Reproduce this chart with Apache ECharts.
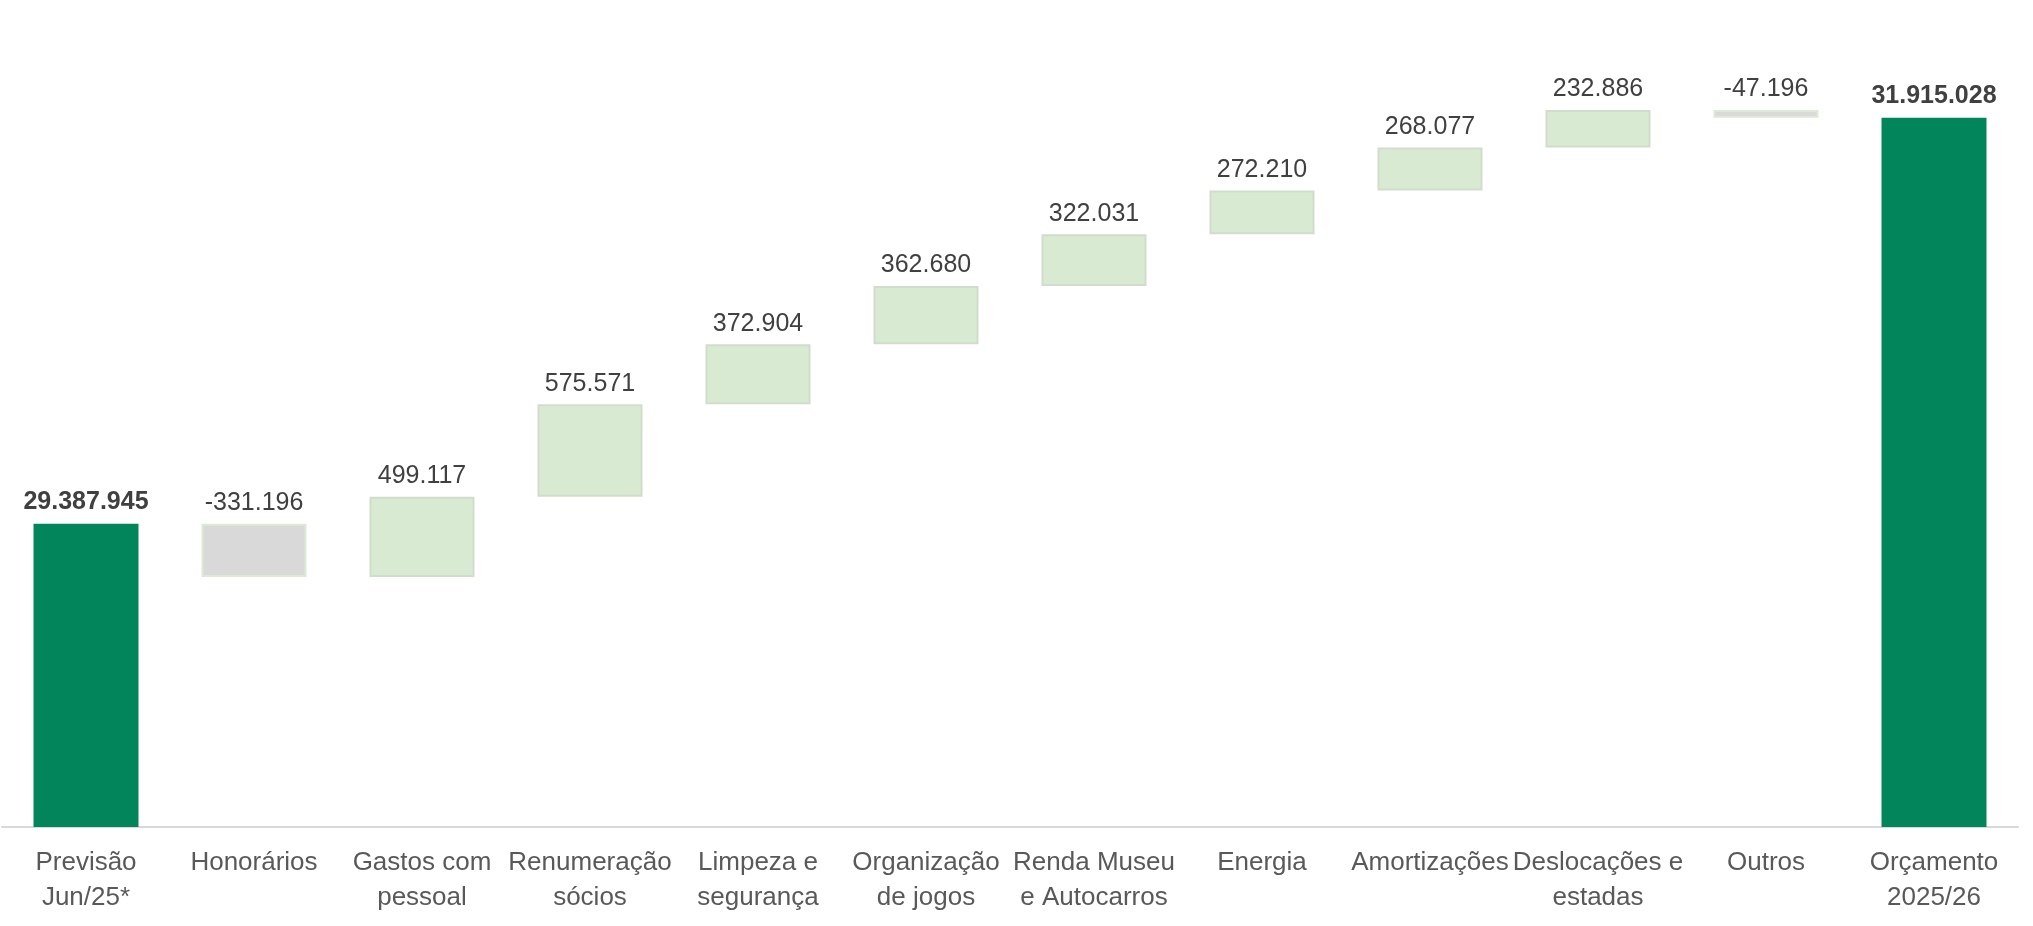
<!DOCTYPE html>
<html>
<head>
<meta charset="utf-8">
<script src="https://cdn.jsdelivr.net/npm/echarts@6/dist/echarts.min.js"></script>
<style>
html,body{margin:0;padding:0;background:#fff;}
#chart{width:2033px;height:926px;}
</style>
</head>
<body>
<div id="chart"></div>
<script>
var categories = ["Previsão\nJun/25*", "Honorários", "Gastos com\npessoal", "Renumeração\nsócios", "Limpeza e\nsegurança", "Organização\nde jogos", "Renda Museu\ne Autocarros", "Energia", "Amortizações", "Deslocações e\nestadas", "Outros", "Orçamento\n2025/26"];
var values = [29387945, -331196, 499117, 575571, 372904, 362680, 322031, 272210, 268077, 232886, -47196, 31915028];
var isTotal = [true, false, false, false, false, false, false, false, false, false, false, true];

function fmt(v) {
  var s = Math.abs(v).toString().replace(/\B(?=(\d{3})+(?!\d))/g, ".");
  return (v < 0 ? "-" : "") + s;
}

var baseData = [], deltaData = [], totalData = [];
var running = 0;
for (var i = 0; i < values.length; i++) {
  if (isTotal[i]) {
    running = values[i];
    baseData.push('-');
    deltaData.push('-');
    totalData.push(values[i]);
  } else {
    var prev = running;
    running = running + values[i];
    var low = Math.min(prev, running);
    baseData.push(low);
    var neg = values[i] < 0;
    deltaData.push({
      value: Math.abs(values[i]),
      raw: values[i],
      itemStyle: neg ? { color: '#D9D9D9', borderColor: '#DCEAD6', borderWidth: 2 }
                     : { color: '#D9EAD3', borderColor: '#D2DCCD', borderWidth: 2 }
    });
    totalData.push('-');
  }
}

var chart = echarts.init(document.getElementById('chart'));
var font = "'Liberation Sans', Arial, sans-serif";
chart.setOption({
  animation: false,
  backgroundColor: '#ffffff',
  grid: { left: 2, right: 15, top: 104, bottom: 99, containLabel: false },
  xAxis: {
    type: 'category',
    data: categories,
    axisTick: { show: false },
    axisLine: { lineStyle: { color: '#D9D9D9', width: 2 } },
    axisLabel: { interval: 0, fontSize: 26, color: '#595959', lineHeight: 35, margin: 18, fontFamily: font }
  },
  yAxis: {
    type: 'value',
    show: false,
    min: 27500000,
    max: 32000000,
    splitLine: { show: false }
  },
  series: [
    {
      type: 'bar', stack: 'w', data: baseData, barWidth: '62.5%', barGap: '-100%',
      itemStyle: { color: 'transparent' }, silent: true
    },
    {
      type: 'bar', stack: 'w', data: deltaData, barWidth: '62.5%', barGap: '-100%',
      label: {
        show: true, position: 'top', distance: 8, fontSize: 25, color: '#404040', fontFamily: font,
        formatter: function (p) { return fmt(p.data.raw); }
      }
    },
    {
      type: 'bar', data: totalData, barWidth: '62.5%', barGap: '-100%',
      itemStyle: { color: '#02855A' },
      label: {
        show: true, position: 'top', distance: 9, fontSize: 25, fontWeight: 'bold', color: '#404040', fontFamily: font,
        formatter: function (p) { return fmt(p.value); }
      }
    }
  ]
});
</script>
</body>
</html>
